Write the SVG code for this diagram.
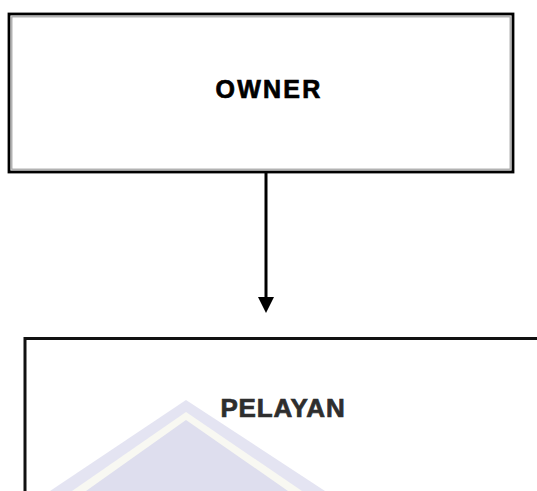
<svg xmlns="http://www.w3.org/2000/svg" width="537" height="491" viewBox="0 0 537 491">
<style>
.box{fill:#ffffff;stroke:#000000;stroke-width:2.8}
.inner{fill:none;stroke:#a0a0a0;stroke-width:1.2}
.lbl{font-family:"Liberation Sans",Arial,sans-serif;font-weight:bold;text-anchor:middle;stroke-width:0.7}
.conn{stroke:#000000;stroke-width:3;fill:none}
</style>
<defs>
<marker id="arr" markerUnits="userSpaceOnUse" markerWidth="18" markerHeight="18" refX="8" refY="0" viewBox="0 -8 18 16" orient="auto">
<path d="M0,-8 L16,0 L0,8 Z" fill="#000000"/>
</marker>
</defs>
<rect width="537" height="491" fill="#ffffff"/>
<g id="owner">
<rect class="box" x="9" y="14" width="504" height="158"/>
<rect class="inner" x="11.8" y="16.8" width="498.4" height="152.4"/>
<text class="lbl" x="269" y="98" font-size="25" letter-spacing="2.2" fill="#000000" stroke="#000000">OWNER</text>
</g>
<g id="pelayan">
<path d="M25,491 L25,338.5 L537,338.5" fill="none" stroke="#111111" stroke-width="3"/>
<g id="watermark" opacity="0.75">
<polygon points="186,400 50,491 325,491" fill="#dcdcee"/>
<polygon points="186,412 72,491 302,491" fill="#f6f6ee"/>
<polygon points="186,420 86,491 288,491" fill="#d3d3e9"/>
</g>
<text class="lbl" x="283" y="417" font-size="26" letter-spacing="0.8" fill="#2e2e2e" stroke="#2e2e2e">PELAYAN</text>
</g>
<g id="connectors">
<line class="conn" x1="266" y1="173" x2="266" y2="305" marker-end="url(#arr)"/>
</g>
</svg>
